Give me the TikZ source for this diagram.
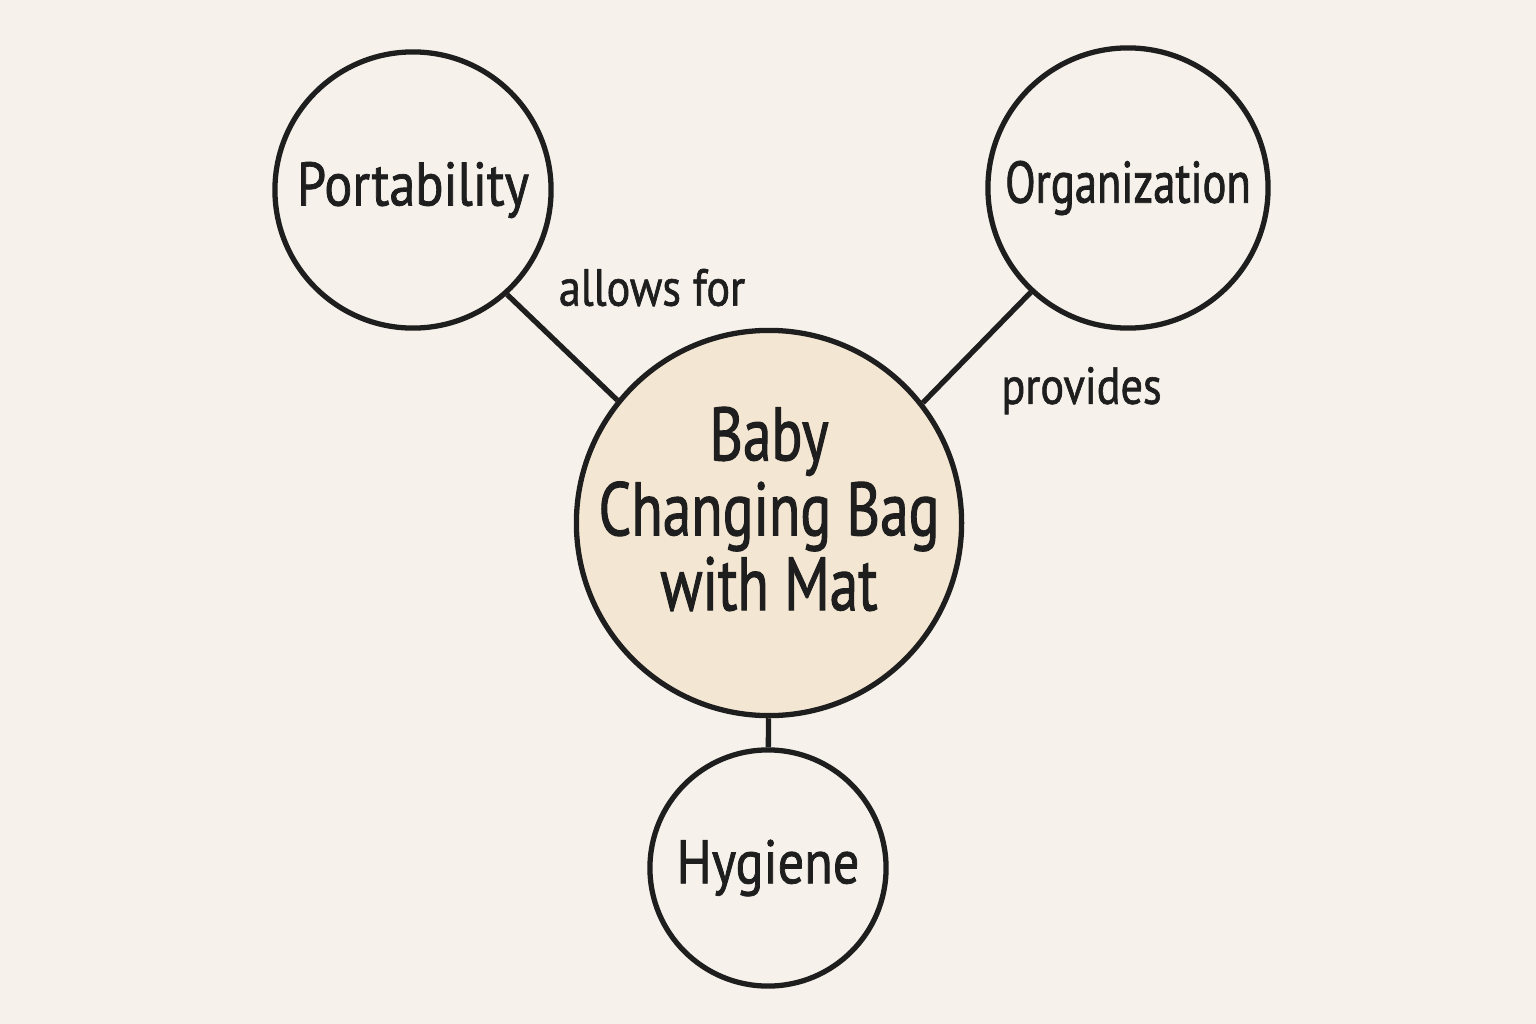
\documentclass[tikz,border=0pt]{standalone}
\usepackage{fontspec}
\setmainfont{PT Sans}[FakeStretch=0.85,FakeBold=1.2]
\newfontfamily\hubfont{PT Sans}[FakeStretch=0.76,FakeBold=1.3]
\usetikzlibrary{positioning}
\definecolor{paper}{HTML}{F6F2EB}
\definecolor{hubfill}{HTML}{F3E7D3}
\definecolor{ink}{HTML}{1E1E1E}

\begin{document}
\begin{tikzpicture}[x=0.01cm,y=-0.01cm,
every node/.style={text=ink},
every label/.style={inner sep=0pt,align=center},
topic/.style={circle,draw=ink,line width=1.5pt,fill=paper,inner sep=0pt},
hub/.style={topic,fill=hubfill},
link/.style={draw=ink,line width=1.5pt},
lbl/.style={inner sep=0pt,font=\fontsize{14.8}{16}\selectfont}]

\fill[paper] (0,0) rectangle (1536,1024);
\useasboundingbox (0,0) rectangle (1536,1024);

\node[hub,minimum size=3.85cm,
  label={[font=\hubfont\fontsize{21.5}{21.3}\selectfont,yshift=0.14cm]center:Baby\\Changing Bag\\with Mat}] (bag) at (769,523) {};
\node[topic,minimum size=2.76cm,
  label={[font=\fontsize{17.5}{18}\selectfont]center:Portability}] (port) at (413,190) {};
\node[topic,minimum size=2.80cm,
  label={[font=\hubfont\fontsize{16.7}{18}\selectfont]center:Organization}] (org) at (1128,188) {};
\node[topic,minimum size=2.36cm,
  label={[font=\fontsize{17.5}{18}\selectfont]center:Hygiene}] (hyg) at (768,868) {};

\draw[link] (port.312) -- node[lbl,pos=0,anchor=west,xshift=0.49cm,yshift=0.07cm]{allows for} (bag.141);
\draw[link] (org.227) -- node[lbl,pos=0.5,anchor=west,xshift=0.22cm,yshift=-0.43cm]{provides} (bag.38);
\draw[link] (bag) -- (hyg);

\end{tikzpicture}
\end{document}
